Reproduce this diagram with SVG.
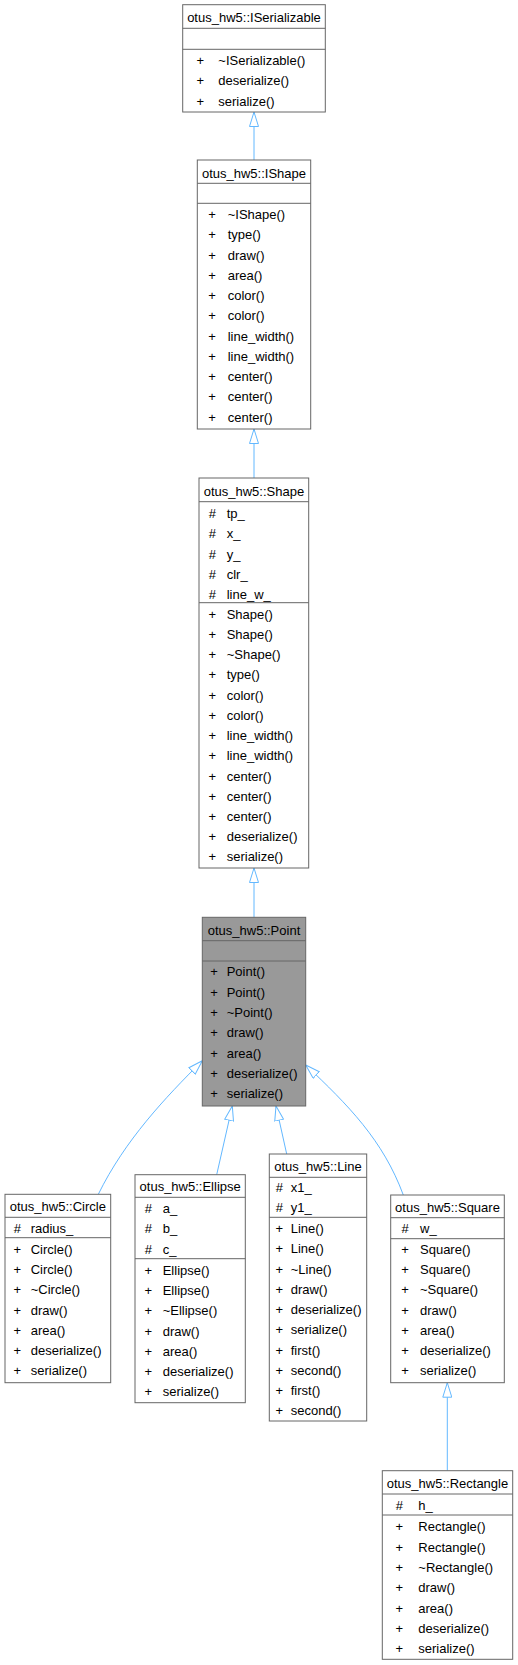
<svg xmlns="http://www.w3.org/2000/svg" width="518" height="1665" viewBox="0 0 518 1665">
<style>
.box{fill:#ffffff;stroke:#666666;stroke-width:1}
.sel{fill:#999999;stroke:#666666;stroke-width:1}
.sep{stroke:#666666;stroke-width:1}
text{font-family:"Liberation Sans",Arial,sans-serif;font-size:13px;fill:#000000}
.t{text-anchor:middle}
.s{text-anchor:middle}
.edge{fill:none;stroke:#63b8ff;stroke-width:1}
</style>
<defs>
<marker id="tri" viewBox="0 0 15 10" refX="15" refY="5" markerWidth="15" markerHeight="10" markerUnits="userSpaceOnUse" orient="auto">
<path d="M0.5,0.5 L15,5 L0.5,9.5 Z" fill="#ffffff" stroke="#63b8ff" stroke-width="1"/>
</marker>
</defs>
<g id="connectors">
<path class="edge" d="M254,160 L254,112" marker-end="url(#tri)"/>
<path class="edge" d="M254,478 L254,429" marker-end="url(#tri)"/>
<path class="edge" d="M254,917.3 L254,868" marker-end="url(#tri)"/>
<path class="edge" d="M98.3,1194.3 C125,1140 165,1098 202.3,1060.7" marker-end="url(#tri)"/>
<path class="edge" d="M216.7,1174.7 L232.3,1106" marker-end="url(#tri)"/>
<path class="edge" d="M286.7,1154 L276,1106" marker-end="url(#tri)"/>
<path class="edge" d="M403.3,1195 C383,1140 348,1105 305.7,1065" marker-end="url(#tri)"/>
<path class="edge" d="M447.3,1470.7 L447.3,1382.7" marker-end="url(#tri)"/>
</g>
<g id="ISerializable">
<rect class="box" x="182.7" y="4.7" width="142.6" height="107.3"/>
<line class="sep" x1="182.7" y1="28.3" x2="325.3" y2="28.3"/>
<line class="sep" x1="182.7" y1="49.3" x2="325.3" y2="49.3"/>
<text class="t" x="254" y="22">otus_hw5::ISerializable</text>
<text class="s" x="200.3" y="65.2">+</text><text x="218.3" y="65.2">~ISerializable()</text>
<text class="s" x="200.3" y="85.4">+</text><text x="218.3" y="85.4">deserialize()</text>
<text class="s" x="200.3" y="105.7">+</text><text x="218.3" y="105.7">serialize()</text>
</g>
<g id="IShape">
<rect class="box" x="197.3" y="160" width="113.4" height="269"/>
<line class="sep" x1="197.3" y1="183.3" x2="310.7" y2="183.3"/>
<line class="sep" x1="197.3" y1="203.3" x2="310.7" y2="203.3"/>
<text class="t" x="254" y="177.5">otus_hw5::IShape</text>
<text class="s" x="212" y="219">+</text><text x="227.7" y="219">~IShape()</text>
<text class="s" x="212" y="239.25">+</text><text x="227.7" y="239.25">type()</text>
<text class="s" x="212" y="259.5">+</text><text x="227.7" y="259.5">draw()</text>
<text class="s" x="212" y="279.75">+</text><text x="227.7" y="279.75">area()</text>
<text class="s" x="212" y="300">+</text><text x="227.7" y="300">color()</text>
<text class="s" x="212" y="320.25">+</text><text x="227.7" y="320.25">color()</text>
<text class="s" x="212" y="340.5">+</text><text x="227.7" y="340.5">line_width()</text>
<text class="s" x="212" y="360.75">+</text><text x="227.7" y="360.75">line_width()</text>
<text class="s" x="212" y="381">+</text><text x="227.7" y="381">center()</text>
<text class="s" x="212" y="401.25">+</text><text x="227.7" y="401.25">center()</text>
<text class="s" x="212" y="421.5">+</text><text x="227.7" y="421.5">center()</text>
</g>
<g id="Shape">
<rect class="box" x="199" y="478" width="109.7" height="390"/>
<line class="sep" x1="199" y1="501.7" x2="308.7" y2="501.7"/>
<line class="sep" x1="199" y1="602.7" x2="308.7" y2="602.7"/>
<text class="t" x="253.9" y="495.5">otus_hw5::Shape</text>
<text class="s" x="212.3" y="518">#</text><text x="226.7" y="518">tp_</text>
<text class="s" x="212.3" y="538.25">#</text><text x="226.7" y="538.25">x_</text>
<text class="s" x="212.3" y="558.5">#</text><text x="226.7" y="558.5">y_</text>
<text class="s" x="212.3" y="578.75">#</text><text x="226.7" y="578.75">clr_</text>
<text class="s" x="212.3" y="599">#</text><text x="226.7" y="599">line_w_</text>
<text class="s" x="212.3" y="618.7">+</text><text x="226.7" y="618.7">Shape()</text>
<text class="s" x="212.3" y="638.9">+</text><text x="226.7" y="638.9">Shape()</text>
<text class="s" x="212.3" y="659.1">+</text><text x="226.7" y="659.1">~Shape()</text>
<text class="s" x="212.3" y="679.4">+</text><text x="226.7" y="679.4">type()</text>
<text class="s" x="212.3" y="699.6">+</text><text x="226.7" y="699.6">color()</text>
<text class="s" x="212.3" y="719.8">+</text><text x="226.7" y="719.8">color()</text>
<text class="s" x="212.3" y="740">+</text><text x="226.7" y="740">line_width()</text>
<text class="s" x="212.3" y="760.2">+</text><text x="226.7" y="760.2">line_width()</text>
<text class="s" x="212.3" y="780.5">+</text><text x="226.7" y="780.5">center()</text>
<text class="s" x="212.3" y="800.7">+</text><text x="226.7" y="800.7">center()</text>
<text class="s" x="212.3" y="820.9">+</text><text x="226.7" y="820.9">center()</text>
<text class="s" x="212.3" y="841.1">+</text><text x="226.7" y="841.1">deserialize()</text>
<text class="s" x="212.3" y="861.3">+</text><text x="226.7" y="861.3">serialize()</text>
</g>
<g id="Point">
<rect class="sel" x="202.3" y="917.3" width="103.4" height="188.7"/>
<line class="sep" x1="202.3" y1="940.7" x2="305.7" y2="940.7"/>
<line class="sep" x1="202.3" y1="961" x2="305.7" y2="961"/>
<text class="t" x="254" y="934.5">otus_hw5::Point</text>
<text class="s" x="214" y="976.4">+</text><text x="226.7" y="976.4">Point()</text>
<text class="s" x="214" y="996.7">+</text><text x="226.7" y="996.7">Point()</text>
<text class="s" x="214" y="1017">+</text><text x="226.7" y="1017">~Point()</text>
<text class="s" x="214" y="1037.4">+</text><text x="226.7" y="1037.4">draw()</text>
<text class="s" x="214" y="1057.7">+</text><text x="226.7" y="1057.7">area()</text>
<text class="s" x="214" y="1078">+</text><text x="226.7" y="1078">deserialize()</text>
<text class="s" x="214" y="1098.4">+</text><text x="226.7" y="1098.4">serialize()</text>
</g>
<g id="Circle">
<rect class="box" x="5" y="1194.3" width="105.7" height="188.4"/>
<line class="sep" x1="5" y1="1217.3" x2="110.7" y2="1217.3"/>
<line class="sep" x1="5" y1="1237.7" x2="110.7" y2="1237.7"/>
<text class="t" x="57.85" y="1211">otus_hw5::Circle</text>
<text class="s" x="17.3" y="1233">#</text><text x="30.7" y="1233">radius_</text>
<text class="s" x="17.3" y="1253.7">+</text><text x="30.7" y="1253.7">Circle()</text>
<text class="s" x="17.3" y="1274">+</text><text x="30.7" y="1274">Circle()</text>
<text class="s" x="17.3" y="1294.3">+</text><text x="30.7" y="1294.3">~Circle()</text>
<text class="s" x="17.3" y="1314.5">+</text><text x="30.7" y="1314.5">draw()</text>
<text class="s" x="17.3" y="1334.8">+</text><text x="30.7" y="1334.8">area()</text>
<text class="s" x="17.3" y="1355.1">+</text><text x="30.7" y="1355.1">deserialize()</text>
<text class="s" x="17.3" y="1375.4">+</text><text x="30.7" y="1375.4">serialize()</text>
</g>
<g id="Ellipse">
<rect class="box" x="135" y="1174.7" width="110.3" height="228"/>
<line class="sep" x1="135" y1="1197.3" x2="245.3" y2="1197.3"/>
<line class="sep" x1="135" y1="1258.7" x2="245.3" y2="1258.7"/>
<text class="t" x="190.15" y="1191">otus_hw5::Ellipse</text>
<text class="s" x="148.3" y="1213">#</text><text x="162.7" y="1213">a_</text>
<text class="s" x="148.3" y="1233.3">#</text><text x="162.7" y="1233.3">b_</text>
<text class="s" x="148.3" y="1253.6">#</text><text x="162.7" y="1253.6">c_</text>
<text class="s" x="148.3" y="1274.7">+</text><text x="162.7" y="1274.7">Ellipse()</text>
<text class="s" x="148.3" y="1295">+</text><text x="162.7" y="1295">Ellipse()</text>
<text class="s" x="148.3" y="1315.3">+</text><text x="162.7" y="1315.3">~Ellipse()</text>
<text class="s" x="148.3" y="1335.5">+</text><text x="162.7" y="1335.5">draw()</text>
<text class="s" x="148.3" y="1355.8">+</text><text x="162.7" y="1355.8">area()</text>
<text class="s" x="148.3" y="1376.1">+</text><text x="162.7" y="1376.1">deserialize()</text>
<text class="s" x="148.3" y="1396.4">+</text><text x="162.7" y="1396.4">serialize()</text>
</g>
<g id="Line">
<rect class="box" x="269.3" y="1154" width="97.4" height="267"/>
<line class="sep" x1="269.3" y1="1177.3" x2="366.7" y2="1177.3"/>
<line class="sep" x1="269.3" y1="1217.3" x2="366.7" y2="1217.3"/>
<text class="t" x="318" y="1171">otus_hw5::Line</text>
<text class="s" x="279.3" y="1192">#</text><text x="290.7" y="1192">x1_</text>
<text class="s" x="279.3" y="1212.3">#</text><text x="290.7" y="1212.3">y1_</text>
<text class="s" x="279.3" y="1233">+</text><text x="290.7" y="1233">Line()</text>
<text class="s" x="279.3" y="1253.25">+</text><text x="290.7" y="1253.25">Line()</text>
<text class="s" x="279.3" y="1273.5">+</text><text x="290.7" y="1273.5">~Line()</text>
<text class="s" x="279.3" y="1293.75">+</text><text x="290.7" y="1293.75">draw()</text>
<text class="s" x="279.3" y="1314">+</text><text x="290.7" y="1314">deserialize()</text>
<text class="s" x="279.3" y="1334.25">+</text><text x="290.7" y="1334.25">serialize()</text>
<text class="s" x="279.3" y="1354.5">+</text><text x="290.7" y="1354.5">first()</text>
<text class="s" x="279.3" y="1374.75">+</text><text x="290.7" y="1374.75">second()</text>
<text class="s" x="279.3" y="1395">+</text><text x="290.7" y="1395">first()</text>
<text class="s" x="279.3" y="1415.25">+</text><text x="290.7" y="1415.25">second()</text>
</g>
<g id="Square">
<rect class="box" x="390.7" y="1195" width="113.6" height="187.7"/>
<line class="sep" x1="390.7" y1="1217.7" x2="504.3" y2="1217.7"/>
<line class="sep" x1="390.7" y1="1238.7" x2="504.3" y2="1238.7"/>
<text class="t" x="447.5" y="1211.5">otus_hw5::Square</text>
<text class="s" x="405" y="1233">#</text><text x="420" y="1233">w_</text>
<text class="s" x="405" y="1253.7">+</text><text x="420" y="1253.7">Square()</text>
<text class="s" x="405" y="1274">+</text><text x="420" y="1274">Square()</text>
<text class="s" x="405" y="1294.3">+</text><text x="420" y="1294.3">~Square()</text>
<text class="s" x="405" y="1314.5">+</text><text x="420" y="1314.5">draw()</text>
<text class="s" x="405" y="1334.8">+</text><text x="420" y="1334.8">area()</text>
<text class="s" x="405" y="1355.1">+</text><text x="420" y="1355.1">deserialize()</text>
<text class="s" x="405" y="1375.4">+</text><text x="420" y="1375.4">serialize()</text>
</g>
<g id="Rectangle">
<rect class="box" x="382.3" y="1470.7" width="130.4" height="188.6"/>
<line class="sep" x1="382.3" y1="1494" x2="512.7" y2="1494"/>
<line class="sep" x1="382.3" y1="1515" x2="512.7" y2="1515"/>
<text class="t" x="447.5" y="1488">otus_hw5::Rectangle</text>
<text class="s" x="399.3" y="1509.7">#</text><text x="418.3" y="1509.7">h_</text>
<text class="s" x="399.3" y="1531.4">+</text><text x="418.3" y="1531.4">Rectangle()</text>
<text class="s" x="399.3" y="1551.7">+</text><text x="418.3" y="1551.7">Rectangle()</text>
<text class="s" x="399.3" y="1571.9">+</text><text x="418.3" y="1571.9">~Rectangle()</text>
<text class="s" x="399.3" y="1592.2">+</text><text x="418.3" y="1592.2">draw()</text>
<text class="s" x="399.3" y="1612.5">+</text><text x="418.3" y="1612.5">area()</text>
<text class="s" x="399.3" y="1632.8">+</text><text x="418.3" y="1632.8">deserialize()</text>
<text class="s" x="399.3" y="1653">+</text><text x="418.3" y="1653">serialize()</text>
</g>
</svg>
